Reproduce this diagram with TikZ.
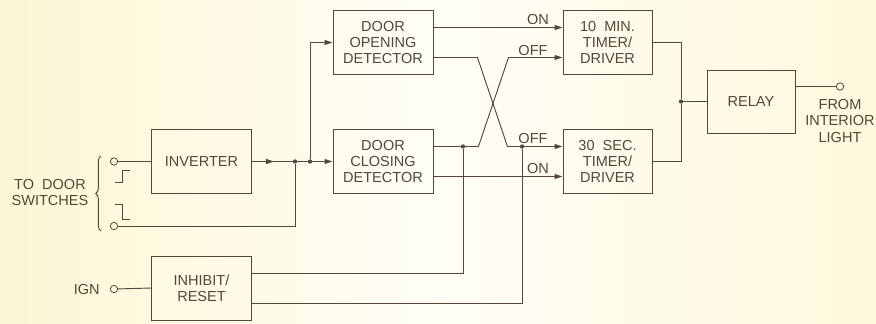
\documentclass[tikz,border=0pt]{standalone}
\usepackage{fontspec}
\setmainfont{Liberation Sans}
\usetikzlibrary{arrows.meta,positioning,decorations.pathreplacing}
\definecolor{ink}{RGB}{84,70,58}
\definecolor{paperA}{RGB}{253,246,212}
\definecolor{paperB}{RGB}{255,254,246}
\definecolor{paperC}{RGB}{254,248,220}

\begin{document}
\begin{tikzpicture}[
  x=0.03cm, y=-0.03cm,
  font=\fontsize{12.4}{14}\selectfont,
  every node/.style={text=ink},
  box/.style={draw=ink, line width=0.8pt, rectangle, minimum width=3cm, minimum height=1.92cm, align=center, inner sep=1pt},
  timer/.style={box, minimum width=2.67cm},
  term/.style={draw=ink, line width=0.7pt, circle, inner sep=0pt, minimum size=0.22cm},
  dot/.style={fill=ink, circle, inner sep=0pt, minimum size=0.13cm},
  lbl/.style={inner sep=0pt, align=center},
  wire/.style={draw=ink, line width=0.8pt},
  arr/.style={wire, -{Triangle[length=2.4mm,width=1.5mm]}}
]
\useasboundingbox (0,0) rectangle (876,323);
\shade[left color=paperA, right color=paperC, middle color=paperB] (0,0) rectangle (876,323);

\node[box] (inv) at (201.5,161.5) {INVERTER};
\node[box] (inh) at (201.5,288) {INHIBIT/\\RESET};
\node[box] (dopen) at (383,42.5) {DOOR\\OPENING\\DETECTOR};
\node[box] (dclose) at (383,161.5) {DOOR\\CLOSING\\DETECTOR};
\node[timer] (tmin) at (607.5,42.5) {10\ \ MIN.\\TIMER/\\DRIVER};
\node[timer] (tsec) at (607.5,161.5) {30\ \ SEC.\\TIMER/\\DRIVER};
\node[box, minimum width=2.64cm, minimum height=1.89cm] (relay) at (751,101.5) {RELAY};

\node[term] (swon) at (114,161.5) {};
\node[term] (swoff) at (114,226) {};
\node[term] (ign) at (114,289) {};
\node[term] (lamp) at (840,86.5) {};
\node[lbl] (swtxt) at (50,192.5) {TO\ \ DOOR\\SWITCHES};
\node[lbl, left=0.3cm of ign] (igntxt) {IGN};
\node[lbl, below=0.25cm of lamp] (lamptxt) {FROM\\INTERIOR\\LIGHT};

\node[lbl] (on1) at (538,19) {ON};
\node[lbl] (off1) at (533,50) {OFF};
\node[lbl] (off2) at (533,138) {OFF};
\node[lbl] (on2) at (538,168.5) {ON};

\draw[wire, decorate, decoration={brace, amplitude=0.16cm}] (101,231) -- (101,156);
\draw[wire, line width=0.7pt] (115,182.7) -- (122.7,182.7) -- (122.7,170) -- (130,170);
\draw[wire, line width=0.7pt] (115,204) -- (122.7,204) -- (122.7,219) -- (130,219);

\node[dot] (dS) at (295,161.5) {};
\node[dot] (dT) at (310,161.5) {};
\node[dot] (dA) at (463,146.5) {};
\node[dot] (dB) at (522,146.5) {};
\node[dot] (dR) at (681,101.5) {};

\draw[wire] (swon) -- (inv.west);
\draw[arr] (inv.east) -- ++(22,0);
\draw[arr] (inv.east) -- (dclose.west);
\draw[wire] (swoff) -| (dS);
\draw[arr] (dT) |- (dopen.west);
\draw[arr] ([yshift=0.45cm]dopen.east) -- ([yshift=0.45cm]tmin.west);
\draw[arr] ([yshift=-0.45cm]dopen.east) -- ++(44,0) -- ++(30,89) -- ([yshift=0.45cm]tsec.west);
\draw[arr] ([yshift=0.45cm]dclose.east) -- ++(45,0) -- ++(30,-89) -- ([yshift=-0.45cm]tmin.west);
\draw[arr] ([yshift=-0.45cm]dclose.east) -- ([yshift=-0.45cm]tsec.west);
\draw[wire] (ign) -- (inh.west);
\draw[wire] ([yshift=0.45cm]inh.east) -| (dA);
\draw[wire] ([yshift=-0.45cm]inh.east) -| (dB);
\draw[wire] (tmin.east) -| (dR);
\draw[wire] (tsec.east) -| (dR);
\draw[wire] (dR) -- (relay.west);
\draw[wire] ([yshift=0.45cm]relay.east) -- (lamp.west);
\end{tikzpicture}
\end{document}
